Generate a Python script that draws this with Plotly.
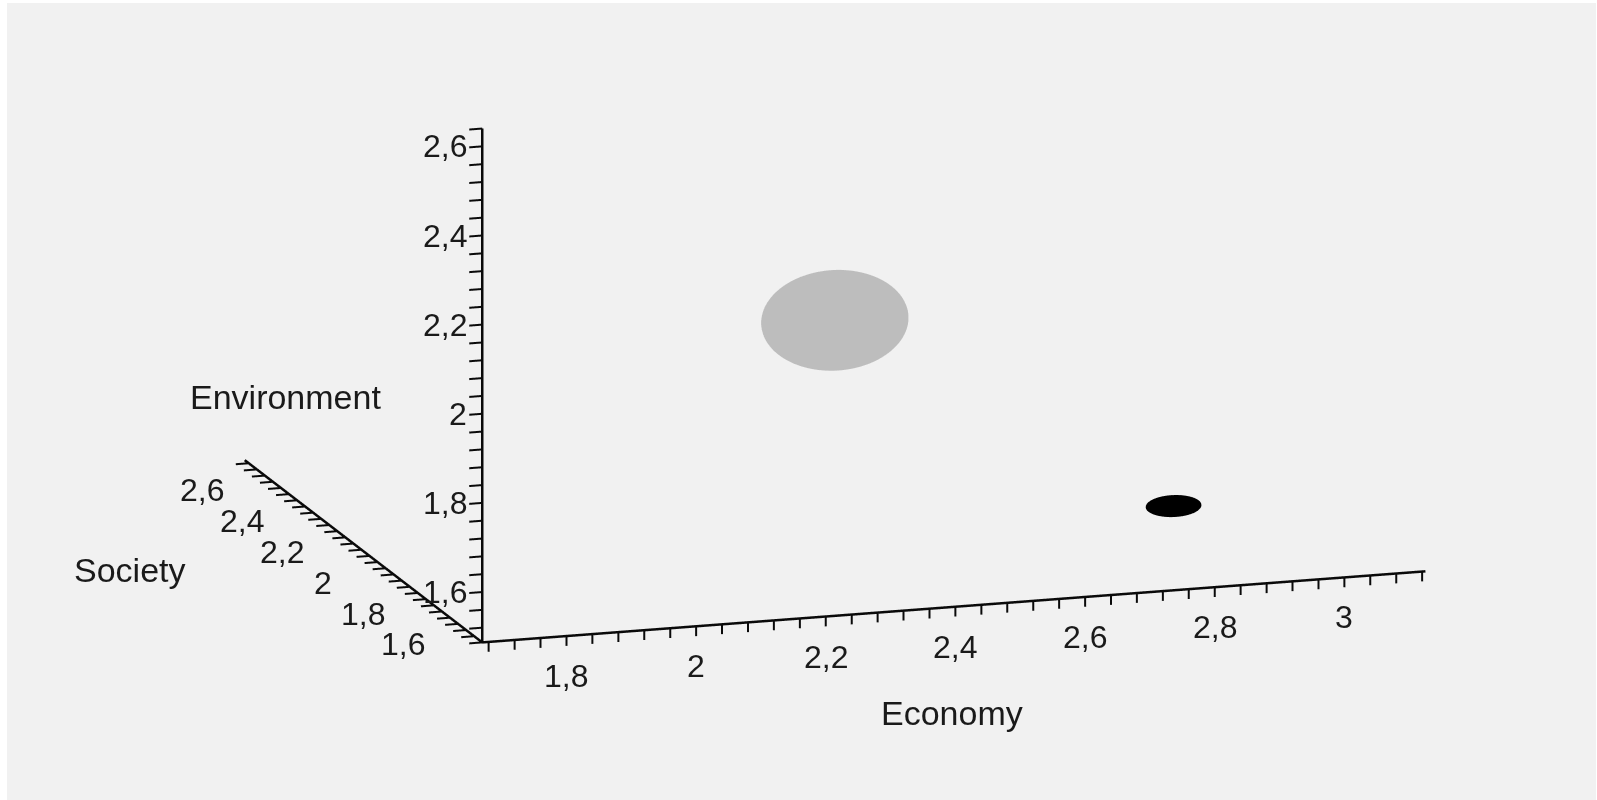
import numpy as np
import plotly.graph_objects as go

# ---------------- data ----------------
axis_names = ["Economy", "Society", "Environment"]
econ_range = [1.67, 3.125]
soc_range = [1.60, 2.78]
env_range = [1.487, 2.64]

econ_tick_vals = [1.8, 2.0, 2.2, 2.4, 2.6, 2.8, 3.0]
econ_tick_text = ["1,8", "2", "2,2", "2,4", "2,6", "2,8", "3"]
soc_tick_vals = [1.6, 1.8, 2.0, 2.2, 2.4, 2.6]
soc_tick_text = ["1,6", "1,8", "2", "2,2", "2,4", "2,6"]
env_tick_vals = [1.6, 1.8, 2.0, 2.2, 2.4, 2.6]
env_tick_text = ["1,6", "1,8", "2", "2,2", "2,4", "2,6"]
minor_step = 0.04

# ellipsoids: centre (economy, society, environment) and radii
blob_names = ["Gray", "Black"]
blob_centers = [(2.245, 1.70, 2.112), (2.752, 1.65, 1.657)]
blob_radii = [(0.111, 0.080, 0.109), (0.042, 0.030, 0.022)]
blob_colors = ["#bdbdbd", "#000000"]

# ---------------- layout constants ----------------
pad = [0.05, 0.04, 0.05]
xr = [econ_range[0] - pad[0], econ_range[1] + pad[0]]
yr = [soc_range[0] - pad[1], soc_range[1] + pad[1]]
zr = [env_range[0] - pad[2], env_range[1] + pad[2]]

# pixels per data unit (target)
ppu = [677.0, 676.0, 464.0]
lens = [ppu[0] * (xr[1] - xr[0]), ppu[1] * (yr[1] - yr[0]), ppu[2] * (zr[1] - zr[0])]
k = 2.62
aspect = dict(x=k * 1.008, y=k * lens[1] / lens[0], z=k * 0.994 * lens[2] / lens[0])

fig = go.Figure()

x0, y0, z0 = econ_range[0], soc_range[0], env_range[0]

# ellipsoids
u = np.linspace(0, 2 * np.pi, 72)
v = np.linspace(0, np.pi, 36)
for name, c, r, col in zip(blob_names, blob_centers, blob_radii, blob_colors):
    X = c[0] + r[0] * np.outer(np.cos(u), np.sin(v))
    Y = c[1] + r[1] * np.outer(np.sin(u), np.sin(v))
    Z = c[2] + r[2] * np.outer(np.ones_like(u), np.cos(v))
    fig.add_trace(go.Surface(x=X, y=Y, z=Z, surfacecolor=np.zeros_like(X),
                             colorscale=[[0, col], [1, col]], showscale=False,
                             lighting=dict(ambient=1, diffuse=0, specular=0, fresnel=0, roughness=1),
                             hoverinfo="skip", name=name))

# axis lines
ax_x = [x0, econ_range[1], None, x0, x0, None, x0, x0]
ax_y = [y0, y0, None, y0, soc_range[1], None, y0, y0]
ax_z = [z0, z0, None, z0, z0, None, z0, env_range[1]]
fig.add_trace(go.Scatter3d(x=ax_x, y=ax_y, z=ax_z, mode="lines",
                           line=dict(color="#0a0a0a", width=5), hoverinfo="skip",
                           connectgaps=False, showlegend=False))

# minor ticks
def ticks_in(rng):
    k0 = int(np.ceil(rng[0] / minor_step - 1e-9))
    k1 = int(np.floor(rng[1] / minor_step + 1e-9))
    return [i * minor_step for i in range(k0, k1 + 1)]

tl_econ = 0.022   # downward in environment units
tl_env = 0.020    # leftward in economy units
tl_soc = 0.020
tx, ty, tz = [], [], []
for t in ticks_in(econ_range):
    tx += [t, t, None]; ty += [y0, y0, None]; tz += [z0, z0 - tl_econ, None]
for t in ticks_in(env_range):
    tx += [x0, x0 - tl_env, None]; ty += [y0, y0, None]; tz += [t, t, None]
for t in ticks_in(soc_range):
    tx += [x0, x0 - tl_soc, None]; ty += [t, t, None]; tz += [z0, z0, None]
fig.add_trace(go.Scatter3d(x=tx, y=ty, z=tz, mode="lines",
                           line=dict(color="#0a0a0a", width=4), hoverinfo="skip",
                           connectgaps=False, showlegend=False))

# tick labels as scene annotations
font = dict(family="Liberation Sans, Arial, sans-serif", size=32, color="#1a1a1a")
annos = []
for val, txt in zip(econ_tick_vals, econ_tick_text):
    annos.append(dict(x=val, y=y0, z=z0, text=txt, showarrow=False, font=font,
                      xanchor="center", yanchor="middle", yshift=-40))
for val, txt in zip(env_tick_vals, env_tick_text):
    annos.append(dict(x=x0, y=y0, z=val, text=txt, showarrow=False, font=font,
                      xanchor="right", yanchor="middle", xshift=-13))
for val, txt in zip(soc_tick_vals, soc_tick_text):
    annos.append(dict(x=x0, y=val, z=z0, text=txt, showarrow=False, font=font,
                      xanchor="center", yanchor="middle", xshift=-79, yshift=-2))

# camera
sphi = 0.2405
phi = np.arcsin(sphi)
theta = np.deg2rad(252.6)
direction = np.array([np.cos(phi) * np.cos(theta), np.cos(phi) * np.sin(theta), np.sin(phi)])
center = k * np.array([-0.0269, 0.00843, -0.1388]) + np.array([-0.0168, 0.00526, 0.0])
dist = 2.5
eye = center + dist * direction

hidden = dict(showgrid=False, showline=False, showticklabels=False, showbackground=False,
              zeroline=False, showspikes=False, ticks="", title=dict(text=""))

title_font = dict(family="Liberation Sans, Arial, sans-serif", size=34, color="#1a1a1a")

fig.update_layout(
    width=1597, height=800,
    margin=dict(l=0, r=0, t=0, b=0),
    paper_bgcolor="white",
    showlegend=False,
    scene=dict(
        domain=dict(x=[0, 1], y=[0, 1]),
        xaxis=dict(range=xr, **hidden),
        yaxis=dict(range=yr, **hidden),
        zaxis=dict(range=zr, **hidden),
        aspectmode="manual",
        aspectratio=aspect,
        camera=dict(projection=dict(type="orthographic"),
                    up=dict(x=0, y=0, z=1),
                    center=dict(x=center[0], y=center[1], z=center[2]),
                    eye=dict(x=eye[0], y=eye[1], z=eye[2])),
        annotations=annos,
        dragmode=False,
    ),
    shapes=[dict(type="rect", xref="paper", yref="paper", x0=7 / 1597, x1=1596 / 1597,
                 y0=0, y1=797 / 800, fillcolor="#f1f1f1", line=dict(width=0), layer="below")],
    annotations=[
        dict(text=axis_names[0], x=952 / 1597, y=1 - 713 / 800, xref="paper", yref="paper",
             xanchor="center", yanchor="middle", showarrow=False, font=title_font),
        dict(text=axis_names[2], x=285 / 1597, y=1 - 397 / 800, xref="paper", yref="paper",
             xanchor="center", yanchor="middle", showarrow=False, font=title_font),
        dict(text=axis_names[1], x=130 / 1597, y=1 - 570 / 800, xref="paper", yref="paper",
             xanchor="center", yanchor="middle", showarrow=False, font=title_font),
    ],
)

fig.write_html("out.html", config={"displayModeBar": False},
               post_script="document.body.style.margin='0';document.body.style.overflow='hidden';")
